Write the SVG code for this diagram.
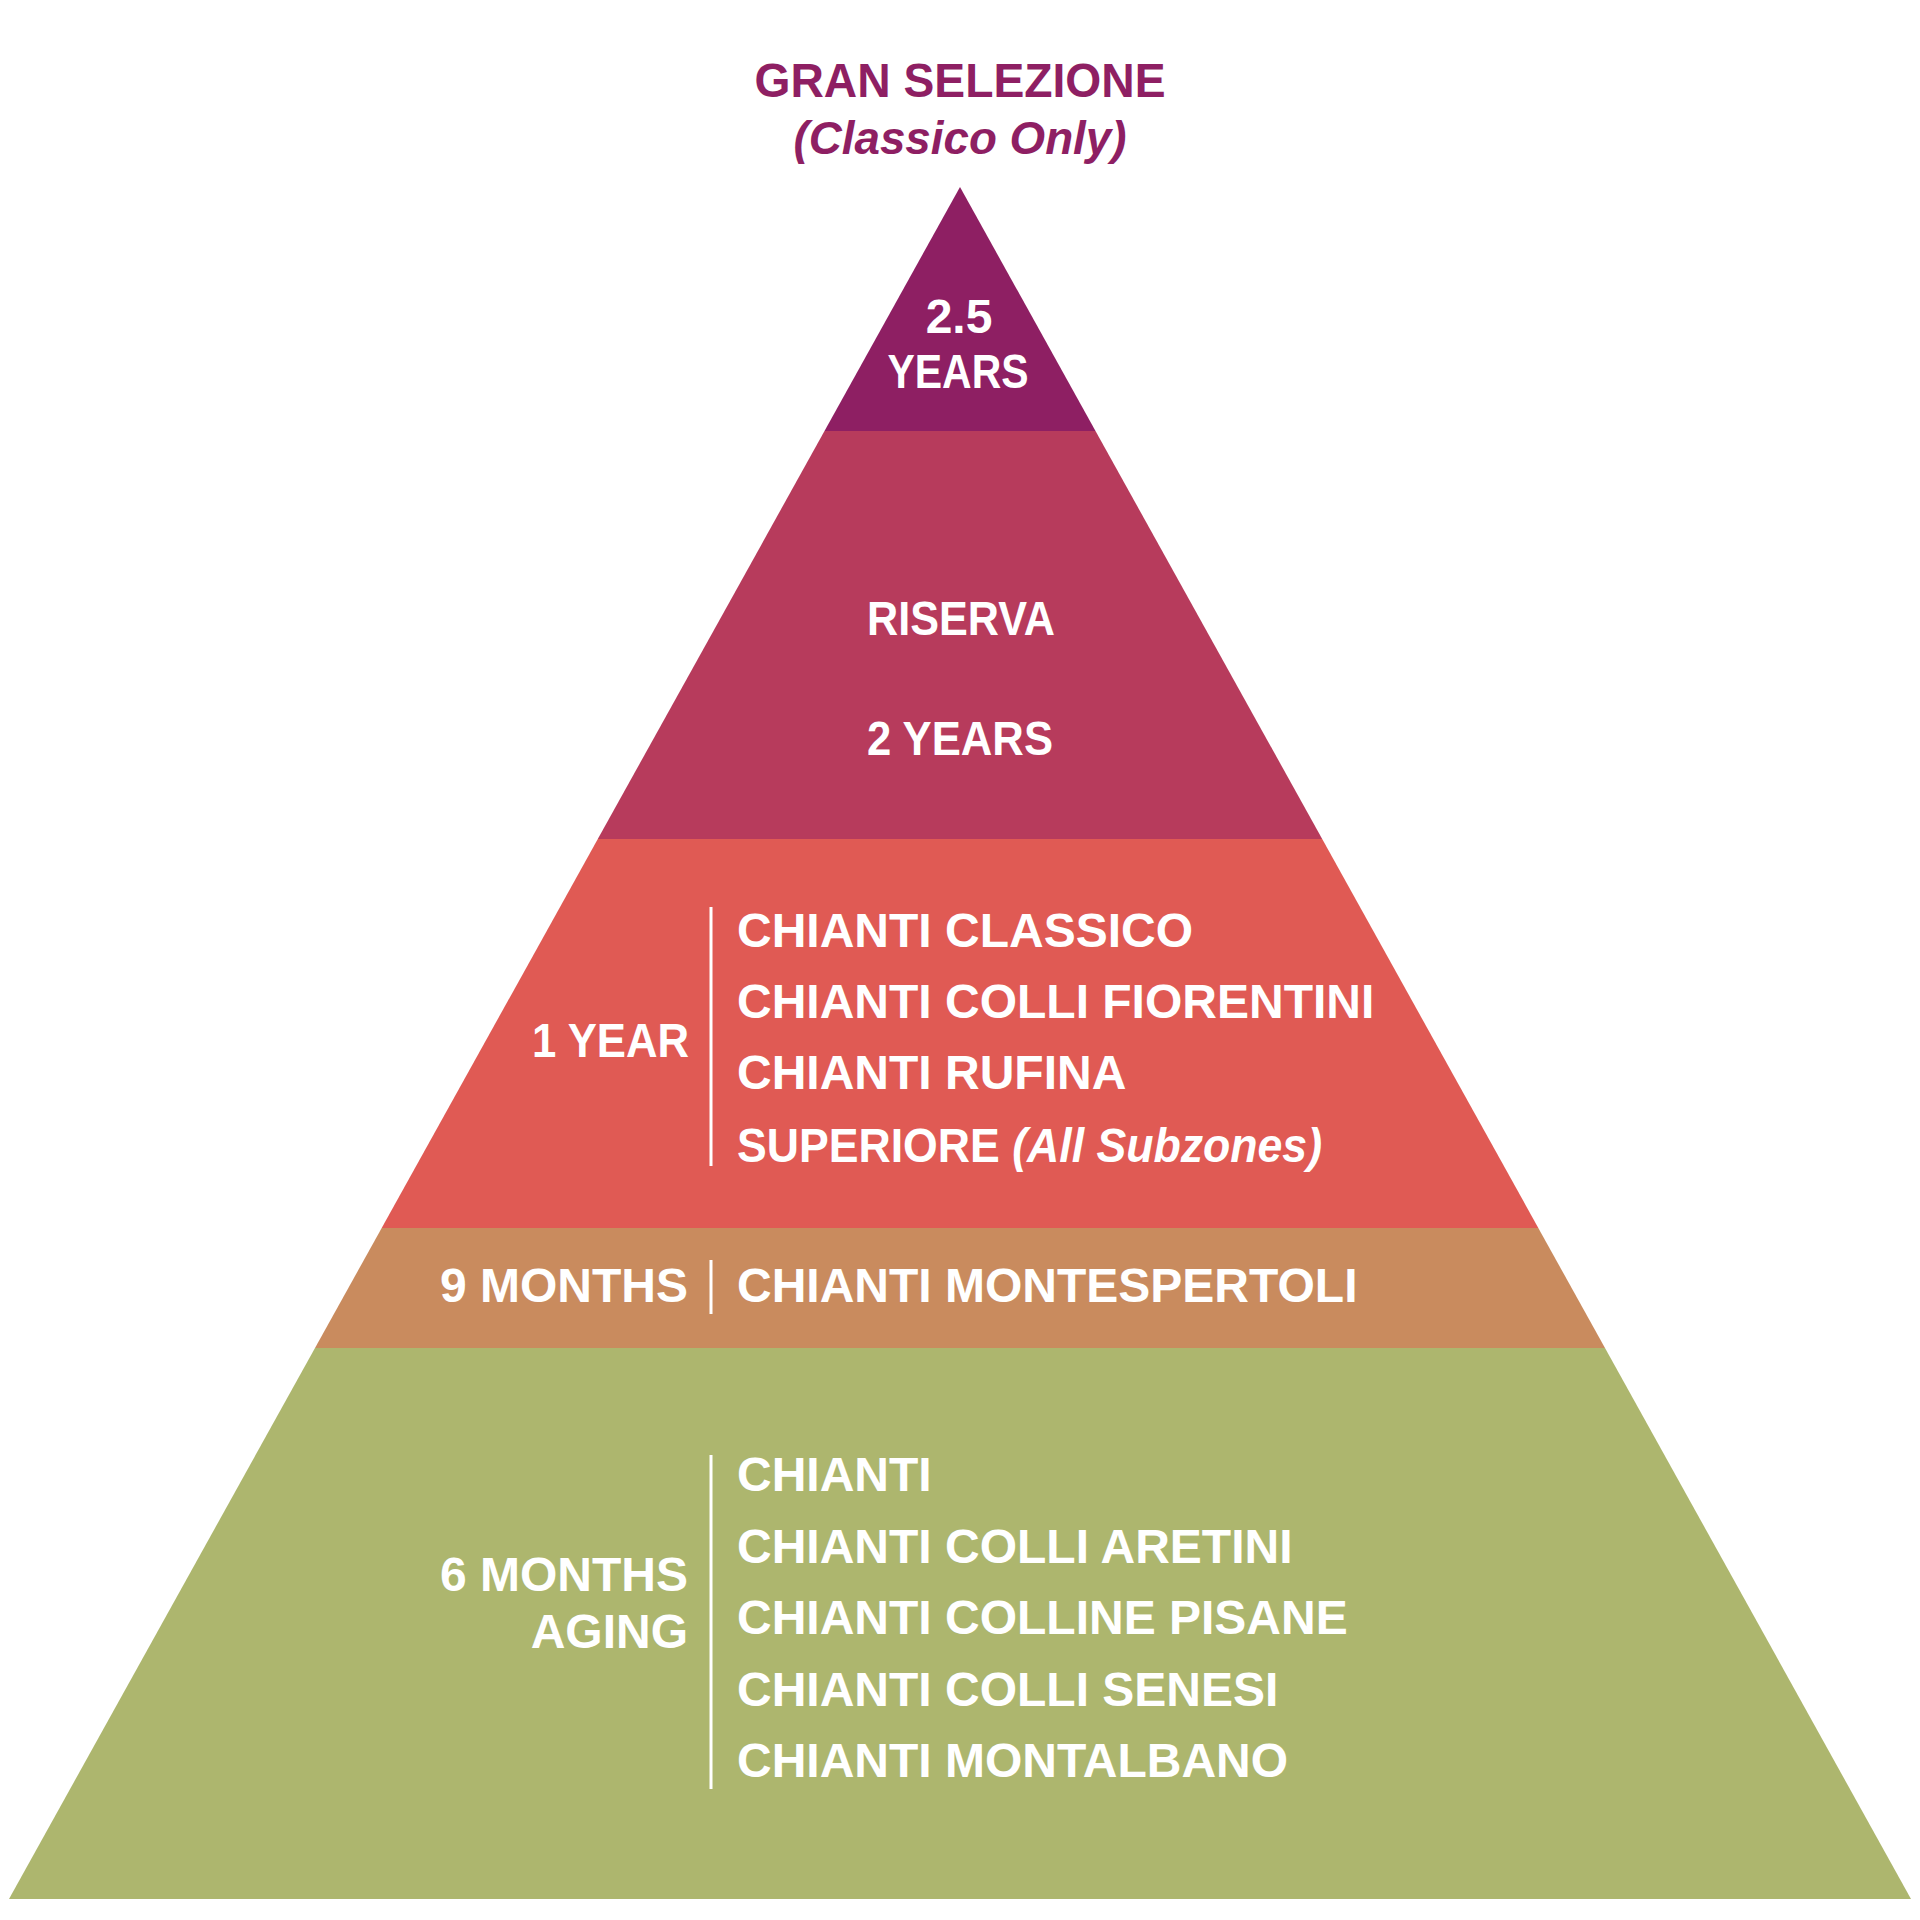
<svg xmlns="http://www.w3.org/2000/svg" width="1920" height="1920" viewBox="0 0 1920 1920">
<style>
.t{font-family:"Liberation Sans",Arial,sans-serif;font-weight:bold;fill:#ffffff;font-size:48px}
.c{text-anchor:middle}
.r{text-anchor:end}
.it{font-style:italic}
.title{font-family:"Liberation Sans",Arial,sans-serif;font-weight:bold;fill:#8E1F63;text-anchor:middle}
.div{stroke:#ffffff;stroke-width:3}
</style>
<rect width="1920" height="1920" fill="#ffffff"/>
<g id="title">
<text class="title" x="960" y="97" font-size="48" textLength="411" lengthAdjust="spacingAndGlyphs">GRAN SELEZIONE</text>
<text class="title it" x="960" y="154" font-size="47" textLength="333" lengthAdjust="spacingAndGlyphs">(Classico Only)</text>
</g>
<g id="tier-gran-selezione">
<polygon points="960,187 1095.5,431 824.5,431" fill="#8E1F63"/>
<text class="t c" x="959" y="333" font-size="45">2.5</text>
<text class="t c" x="958" y="388" font-size="45" textLength="141" lengthAdjust="spacingAndGlyphs">YEARS</text>
</g>
<g id="tier-riserva">
<polygon points="824.5,431 1095.5,431 1322.2,839 597.8,839" fill="#B73B5C"/>
<text class="t c" x="961" y="635" font-size="45" textLength="188" lengthAdjust="spacingAndGlyphs">RISERVA</text>
<text class="t c" x="960" y="755" font-size="45" textLength="186" lengthAdjust="spacingAndGlyphs">2 YEARS</text>
</g>
<g id="tier-1-year">
<polygon points="597.8,839 1322.2,839 1538.3,1228 381.7,1228" fill="#E05A54"/>
<text class="t r" x="689" y="1057" textLength="157" lengthAdjust="spacingAndGlyphs">1 YEAR</text>
<line class="div" x1="711" y1="907" x2="711" y2="1166"/>
<text class="t" x="737" y="947">CHIANTI CLASSICO</text>
<text class="t" x="737" y="1018">CHIANTI COLLI FIORENTINI</text>
<text class="t" x="737" y="1089">CHIANTI RUFINA</text>
<text class="t" x="737" y="1162" textLength="585" lengthAdjust="spacingAndGlyphs">SUPERIORE <tspan class="it">(All Subzones)</tspan></text>
</g>
<g id="tier-9-months">
<polygon points="381.7,1228 1538.3,1228 1605,1348 315,1348" fill="#C98B5E"/>
<text class="t r" x="688" y="1302">9 MONTHS</text>
<line class="div" x1="711" y1="1260" x2="711" y2="1314"/>
<text class="t" x="737" y="1302">CHIANTI MONTESPERTOLI</text>
</g>
<g id="tier-6-months">
<polygon points="315,1348 1605,1348 1911,1899 9,1899" fill="#ADB66E"/>
<text class="t r" x="688" y="1591">6 MONTHS</text>
<text class="t r" x="688" y="1648">AGING</text>
<line class="div" x1="711" y1="1455" x2="711" y2="1789"/>
<text class="t" x="737" y="1491">CHIANTI</text>
<text class="t" x="737" y="1563">CHIANTI COLLI ARETINI</text>
<text class="t" x="737" y="1634">CHIANTI COLLINE PISANE</text>
<text class="t" x="737" y="1706">CHIANTI COLLI SENESI</text>
<text class="t" x="737" y="1777">CHIANTI MONTALBANO</text>
</g>
<g id="connectors"/>
</svg>
